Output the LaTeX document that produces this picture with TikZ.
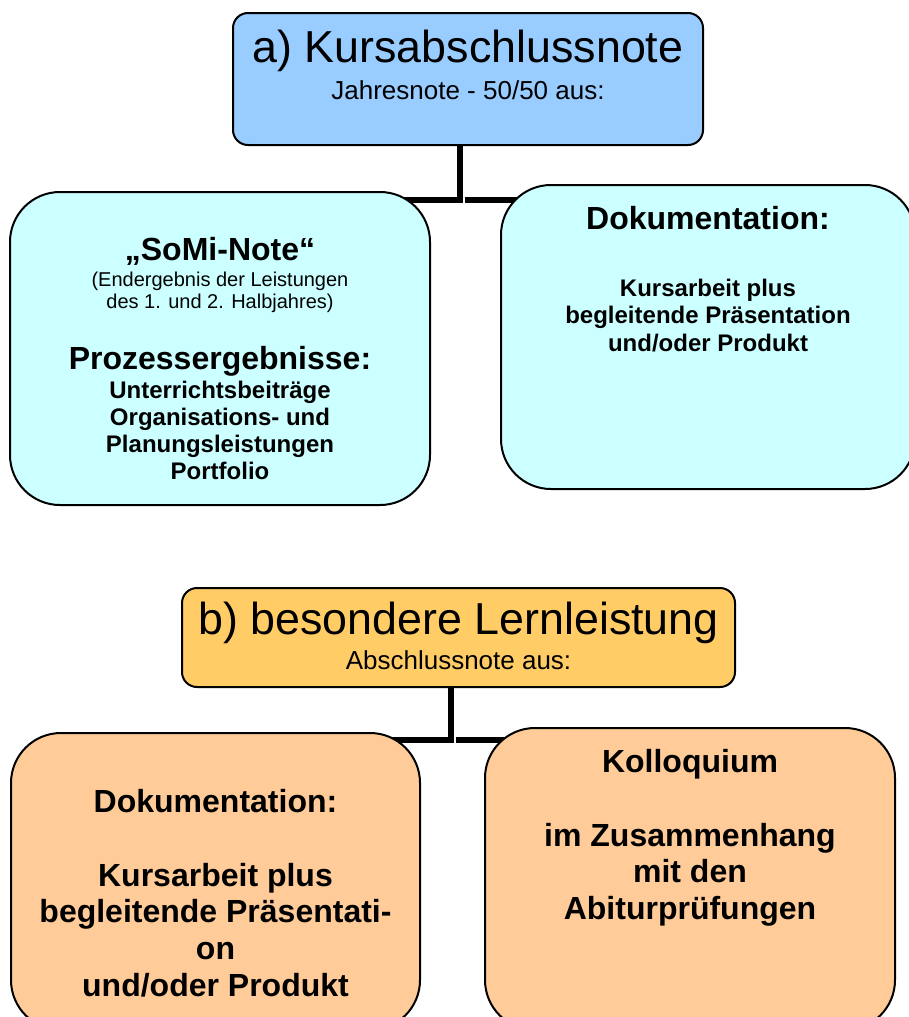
\documentclass[tikz,border=0pt]{standalone}
\usepackage{fontspec}
\setmainfont{Liberation Sans}
\usepackage{tikz}
\usetikzlibrary{positioning}
\usetikzlibrary{backgrounds}
\definecolor{kursblue}{HTML}{99CCFF}
\definecolor{somicyan}{HTML}{CCFFFF}
\definecolor{lernorange}{HTML}{FFCC66}
\definecolor{lernpeach}{HTML}{FFCC99}
\tikzstyle{headbox} = [rectangle, draw, line width=1pt, rounded corners=7.5pt]
\tikzstyle{partbox} = [rectangle, draw, line width=1pt, rounded corners=25pt]
\tikzstyle{boxtext} = [align=center, inner sep=0pt, anchor=north]
\tikzstyle{branch}  = [draw, line width=2.75pt]

\begin{document}
\begin{tikzpicture}[x=0.5pt,y=-0.5pt]
    \useasboundingbox (0,0) rectangle (909,1017);
    \clip (0,0) rectangle (909,1017);
	% part a) boxes
    \node [headbox, fill=kursblue, minimum width=235pt, minimum height=66pt] (kurs) at (468,79) {};
    \node [partbox, fill=somicyan, minimum width=210pt, minimum height=156.5pt] (somi) at (220,348.5) {};
    \node [partbox, fill=somicyan, minimum width=207pt, minimum height=152pt] (doku) at (708,337) {};
	% part b) boxes
    \node [headbox, fill=lernorange, minimum width=276.5pt, minimum height=49.5pt] (bll) at (458.5,637.5) {};
    \node [partbox, fill=lernpeach, minimum width=204.5pt, minimum height=148.5pt] (bdoku) at (215.5,881.5) {};
    \node [partbox, fill=lernpeach, minimum width=205pt, minimum height=151pt] (kollo) at (690,879) {};

	% texts
    \node [boxtext, below=9pt of kurs.north, font=\fontsize{13}{16.5}\selectfont] (kurstext)
        {{\fontsize{22.4}{26}\selectfont a) Kursabschlussnote}\\[2pt]Jahresnote - 50/50 aus:};
    \node [boxtext, below=23pt of somi.north, font=\bfseries\fontsize{12}{13.5}\selectfont] (somitext)
        {{\fontsize{16}{18.4}\selectfont „SoMi-Note“}\\[-0.35pt]
         {\mdseries\fontsize{10}{11}\selectfont (Endergebnis der Leistungen}\\[-2.5pt]
         {\mdseries\fontsize{10}{11}\selectfont des 1. und 2. Halbjahres)}\\[15.5pt]
         {\fontsize{16}{18.4}\selectfont Prozessergebnisse:}\\[1pt]
         Unterrichtsbeiträge\\Organisations- und\\Planungsleistungen\\Portfolio};
    \node [boxtext, below=11pt of doku.north, font=\bfseries\fontsize{12}{13.6}\selectfont] (dokutext)
        {{\fontsize{16}{18.4}\selectfont Dokumentation:}\\[20pt]
         Kursarbeit plus\\begleitende Präsentation\\und/oder Produkt};
    \node [boxtext, below=7.2pt of bll.north, font=\fontsize{13}{16.5}\selectfont] (blltext)
        {{\fontsize{22.4}{26}\selectfont b) besondere Lernleistung}\\[1pt]Abschlussnote aus:};
    \node [boxtext, below=28.5pt of bdoku.north, font=\bfseries\fontsize{16}{18.4}\selectfont] (bdokutext)
        {Dokumentation:\\[18.4pt]Kursarbeit plus\\begleitende Präsentati-\\on\\und/oder Produkt};
    \node [boxtext, below=11pt of kollo.north, font=\bfseries\fontsize{16}{18.4}\selectfont] (kollotext)
        {Kolloquium\\[18.4pt]im Zusammenhang\\mit den\\Abiturprüfungen};

	% draw branches
    \coordinate (kursjoint) at (460,200);
    \coordinate (blljoint)  at (451,740);
    \begin{pgfonlayer}{background}
    \path [branch] (kurs.south -| kursjoint) -- (kursjoint) -- (kursjoint -| somi.center);
    \path [branch] ([xshift=2.25pt]kursjoint) -- (kursjoint -| doku.center);
    \path [branch] (bll.south -| blljoint) -- (blljoint) -- (blljoint -| bdoku.center);
    \path [branch] ([xshift=2.25pt]blljoint) -- (blljoint -| kollo.center);
    \end{pgfonlayer}
\end{tikzpicture}
\end{document}
